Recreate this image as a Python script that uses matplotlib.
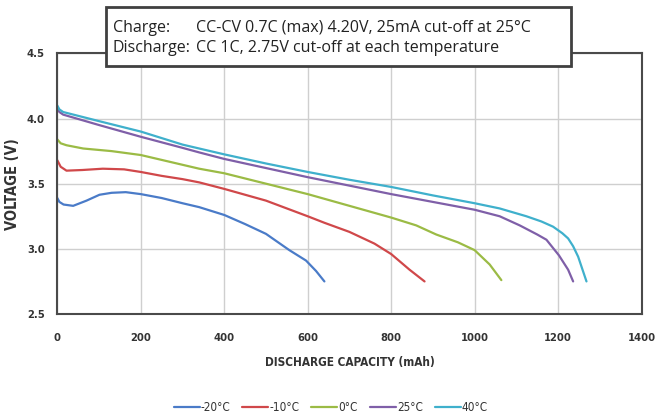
import matplotlib
matplotlib.use("Agg")
import matplotlib.pyplot as plt
from matplotlib.patches import Rectangle
from matplotlib.font_manager import FontProperties

# ---- data ----
x_m20 = [0, 5, 15, 38, 70, 101, 130, 164, 200, 250, 300, 340, 400, 450, 500, 556, 596, 620, 640]
y_m20 = [3.39, 3.36, 3.34, 3.33, 3.37, 3.415, 3.43, 3.435, 3.42, 3.39, 3.35, 3.32, 3.26, 3.19, 3.115, 2.99, 2.91, 2.83, 2.75]

x_m10 = [0, 8, 22, 60, 109, 160, 200, 250, 300, 340, 400, 500, 600, 640, 700, 760, 800, 844, 880]
y_m10 = [3.68, 3.63, 3.60, 3.605, 3.615, 3.61, 3.59, 3.56, 3.535, 3.51, 3.46, 3.37, 3.25, 3.20, 3.13, 3.04, 2.96, 2.84, 2.75]

x_0 = [0, 8, 22, 62, 130, 200, 300, 340, 400, 500, 600, 700, 800, 860, 908, 960, 1000, 1036, 1064]
y_0 = [3.84, 3.81, 3.795, 3.77, 3.75, 3.72, 3.645, 3.615, 3.58, 3.50, 3.42, 3.33, 3.24, 3.18, 3.11, 3.05, 2.99, 2.88, 2.76]

x_25 = [0, 5, 14, 100, 200, 300, 340, 400, 500, 600, 700, 800, 900, 1000, 1060, 1108, 1150, 1172, 1202, 1224, 1236]
y_25 = [4.08, 4.05, 4.03, 3.95, 3.86, 3.775, 3.74, 3.69, 3.62, 3.55, 3.485, 3.42, 3.36, 3.30, 3.25, 3.18, 3.11, 3.07, 2.95, 2.84, 2.75]

x_40 = [0, 5, 14, 100, 200, 300, 340, 400, 500, 600, 700, 800, 900, 1000, 1060, 1124, 1160, 1188, 1210, 1224, 1236, 1248, 1268]
y_40 = [4.10, 4.07, 4.05, 3.98, 3.90, 3.80, 3.77, 3.725, 3.655, 3.59, 3.53, 3.475, 3.41, 3.35, 3.31, 3.25, 3.21, 3.17, 3.12, 3.08, 3.02, 2.94, 2.75]

labels = ["-20°C", "-10°C", "0°C", "25°C", "40°C"]
colors = ["#4A7BC8", "#D0484A", "#9BBB45", "#7F5FA8", "#3FB0CC"]
series = [(x_m20, y_m20), (x_m10, y_m10), (x_0, y_0), (x_25, y_25), (x_40, y_40)]

x_ticks = [0, 200, 400, 600, 800, 1000, 1200, 1400]
y_ticks = [2.5, 3.0, 3.5, 4.0, 4.5]
y_ticklabels = ["2.5", "3.0", "3.5", "4.0", "4.5"]

tcol = "#333333"

def nfp(size, bold=True):
    return FontProperties(family=["DejaVu Sans"], stretch="condensed",
                          weight="bold" if bold else "normal", size=size)

fig = plt.figure(figsize=(6.55, 4.17), dpi=100)
ax = fig.add_axes([0.0875, 0.247, 0.892, 0.625])

for (xs, ys), c, l in zip(series, colors, labels):
    ax.plot(xs, ys, color=c, lw=1.6, label=l, solid_capstyle="round")

ax.set_xlim(0, 1400)
ax.set_ylim(2.5, 4.5)
ax.set_xticks(x_ticks)
ax.set_yticks(y_ticks)
ax.set_yticklabels(y_ticklabels)
ax.grid(True, color="#cfcfcf", lw=1.0)
ax.set_axisbelow(True)
ax.tick_params(length=0, colors=tcol)
ax.tick_params(axis="x", pad=14)
ax.tick_params(axis="y", pad=9)
for lab in ax.get_xticklabels() + ax.get_yticklabels():
    lab.set_fontproperties(nfp(8))
for s in ax.spines.values():
    s.set_color("#4a4a4a")
    s.set_linewidth(1.5)

ax.set_xlabel("DISCHARGE CAPACITY (mAh)", fontproperties=nfp(8.5), color=tcol, labelpad=9)
ax.set_ylabel("VOLTAGE (V)", fontproperties=nfp(10.5), color=tcol, labelpad=5)

leg = fig.legend(loc="center", bbox_to_anchor=(0.505, 0.022), ncol=5, frameon=False,
                 handlelength=2.2, handletextpad=0.1, columnspacing=1.0,
                 prop=nfp(8.5, bold=False))
for t in leg.get_texts():
    t.set_color(tcol)

# annotation box
box = Rectangle((106 / 655, 1 - 66 / 417), (571 - 106) / 655, (66 - 7) / 417,
                transform=fig.transFigure, facecolor="white", edgecolor="#404040",
                lw=2, zorder=5)
fig.add_artist(box)
fs = 11.5
fam = ["Open Sans", "DejaVu Sans"]
y1 = 1 - 28 / 417
y2 = 1 - 48 / 417
fig.text(113 / 655, y1, "Charge:", fontsize=fs, family=fam, va="center", ha="left", color="#222222", zorder=6)
fig.text(113 / 655, y2, "Discharge:", fontsize=fs, family=fam, va="center", ha="left", color="#222222", zorder=6)
fig.text(196 / 655, y1, "CC-CV 0.7C (max) 4.20V, 25mA cut-off at 25°C", fontsize=fs, family=fam,
         va="center", ha="left", color="#222222", zorder=6)
fig.text(196 / 655, y2, "CC 1C, 2.75V cut-off at each temperature", fontsize=fs, family=fam,
         va="center", ha="left", color="#222222", zorder=6)

fig.savefig("out.png", dpi=100, facecolor="white")
